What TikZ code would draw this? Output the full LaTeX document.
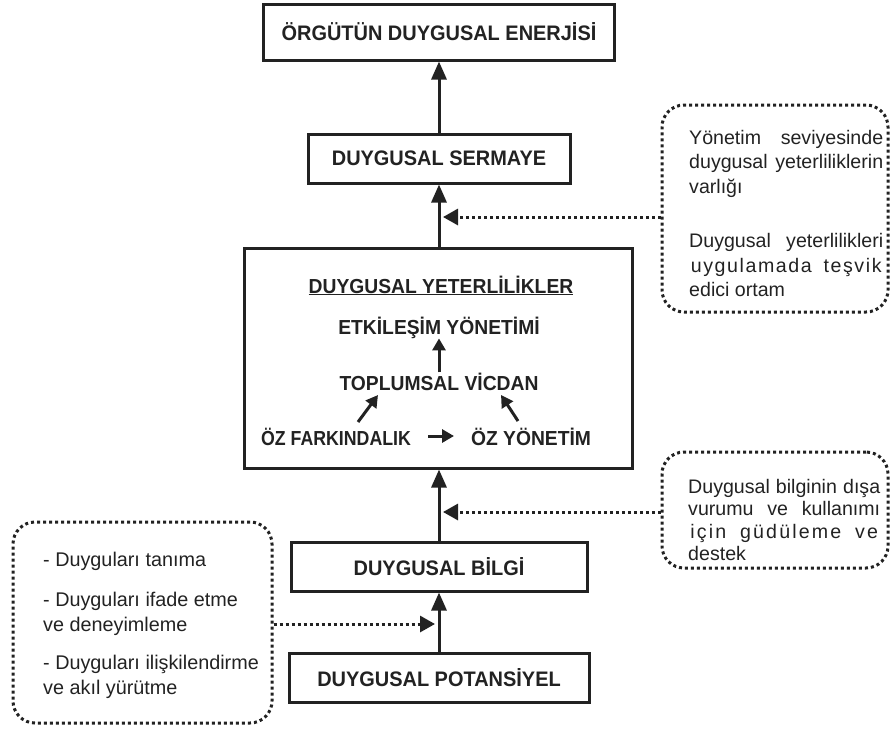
\documentclass[tikz,border=0pt]{standalone}
\usepackage{fontspec}
\setmainfont{Liberation Sans}
\newfontfamily\labf[FakeStretch=0.95]{Liberation Sans}
\newfontfamily\narf{Liberation Sans}
\usetikzlibrary{arrows.meta}
\definecolor{ink}{HTML}{222222}
\def\lsp{\hskip 0pt plus 1fil\relax}
\def\wsp{\hskip 5.4pt plus 4fil\relax}
\begin{document}
\begin{tikzpicture}[x=1pt,y=-1pt,
  box/.style={draw=ink,line width=3pt,fill=white,inner sep=0pt,text=ink,
    font=\labf\bfseries\fontsize{21}{24}\selectfont},
  inlab/.style={inner sep=0pt,text=ink,anchor=base,
    font=\labf\bfseries\fontsize{20.3}{24}\selectfont},
  arr/.style={draw=ink,line width=3pt,-{Triangle[length=18pt,width=15pt]}},
  iarr/.style={draw=ink,line width=3pt,-{Triangle[length=12pt,width=13pt]}},
  dotarr/.style={draw=ink,line width=3pt,dash pattern=on 3pt off 3pt,
    -{Triangle[length=15pt,width=16pt]}},
  dotbox/.style={draw=ink,line width=3pt,dash pattern=on 3pt off 3pt,
    rounded corners=22pt,inner sep=0pt},
  notetext/.style={inner sep=0pt,anchor=base west,text=ink}
]
\useasboundingbox (0,0) rectangle (891,729);

% main boxes
\node[box,minimum width=351pt,minimum height=56pt] (top) at (439,32) {ÖRGÜTÜN DUYGUSAL ENERJİSİ};
\node[box,minimum width=262pt,minimum height=49pt] (serm) at (439,158.5) {DUYGUSAL SERMAYE};
\node[box,minimum width=388pt,minimum height=220pt] (big) at (438,358) {};
\node[box,minimum width=296pt,minimum height=49pt] (bilgi) at (439,566.5) {DUYGUSAL BİLGİ};
\node[box,minimum width=300pt,minimum height=49pt] (pot) at (439,677.5) {DUYGUSAL POTANSİYEL};

\draw[arr] (serm.north) -- (top.south);
\draw[arr] (big.north -| serm.north) -- (serm.south);
\draw[arr] (bilgi.north) -- (bilgi.north |- big.south);
\draw[arr] (pot.north) -- (bilgi.south);

% inside the large box
\node[inlab] (dyt) at (441,293) {\underline{DUYGUSAL YETERLİLİKLER}};
\node[inlab] (etk) at (439,334) {ETKİLEŞİM YÖNETİMİ};
\node[inlab] (topl) at (439,390) {TOPLUMSAL VİCDAN};
\node[inlab] (ozf) at (336,445) {\scalebox{0.92}[1]{ÖZ FARKINDALIK}};
\node[inlab] (ozy) at (531,445) {ÖZ YÖNETİM};

\draw[iarr] (topl.north) -- (etk.south);
\coordinate (d1a) at (358,422);
\coordinate (d1b) at (378,395);
\coordinate (d2a) at (518,421);
\coordinate (d2b) at (501,395);
\draw[iarr] (d1a) -- (d1b);
\draw[iarr] (d2a) -- (d2b);
\coordinate (h1) at (428,436);
\coordinate (h2) at (454,436);
\draw[iarr] (h1) -- (h2);

% dotted boxes
\node[dotbox,minimum width=226pt,minimum height=207pt] (rt) at (775,208.5) {};
\node[dotbox,minimum width=226pt,minimum height=116pt] (rb) at (775,510) {};
\node[dotbox,minimum width=259pt,minimum height=201pt] (lb) at (142.5,622.5) {};

\node[notetext] (rtt) at (689,144) {\parbox[t]{194pt}{\narf\fontsize{19.6}{24.5}\selectfont
\makebox[194pt][s]{Yönetim seviyesinde}\\
\makebox[194pt][s]{duygusal yeterliliklerin}\\
varlığı\\[30pt]
\makebox[194pt][s]{Duygusal yeterlilikleri}\\
\makebox[194pt]{u\lsp y\lsp g\lsp u\lsp l\lsp a\lsp m\lsp a\lsp d\lsp a\wsp t\lsp e\lsp ş\lsp v\lsp i\lsp k}\\
edici ortam}};

\node[notetext] (rbt) at (688,493) {\parbox[t]{192pt}{\narf\fontsize{19.6}{22.5}\selectfont
\makebox[192pt][s]{Duygusal bilginin dışa}\\
\makebox[192pt][s]{vurumu ve kullanımı}\\
\makebox[192pt]{i\lsp ç\lsp i\lsp n\wsp g\lsp ü\lsp d\lsp ü\lsp l\lsp e\lsp m\lsp e\wsp v\lsp e}\\
destek}};

\node[notetext] (lbt) at (43,566) {\parbox[t]{225pt}{\narf\fontsize{19.8}{24.5}\selectfont
- Duyguları tanıma\\[16pt]
- Duyguları ifade etme\\
ve deneyimleme\\[14pt]
- Duyguları ilişkilendirme\\
ve akıl yürütme}};

\coordinate (p1) at (443,217);
\coordinate (p2) at (443,512);
\coordinate (p3) at (435,624);
\draw[dotarr] (rt.west |- p1) -- (p1);
\draw[dotarr] (rb.west |- p2) -- (p2);
\draw[dotarr] (lb.east |- p3) -- (p3);
\end{tikzpicture}
\end{document}
